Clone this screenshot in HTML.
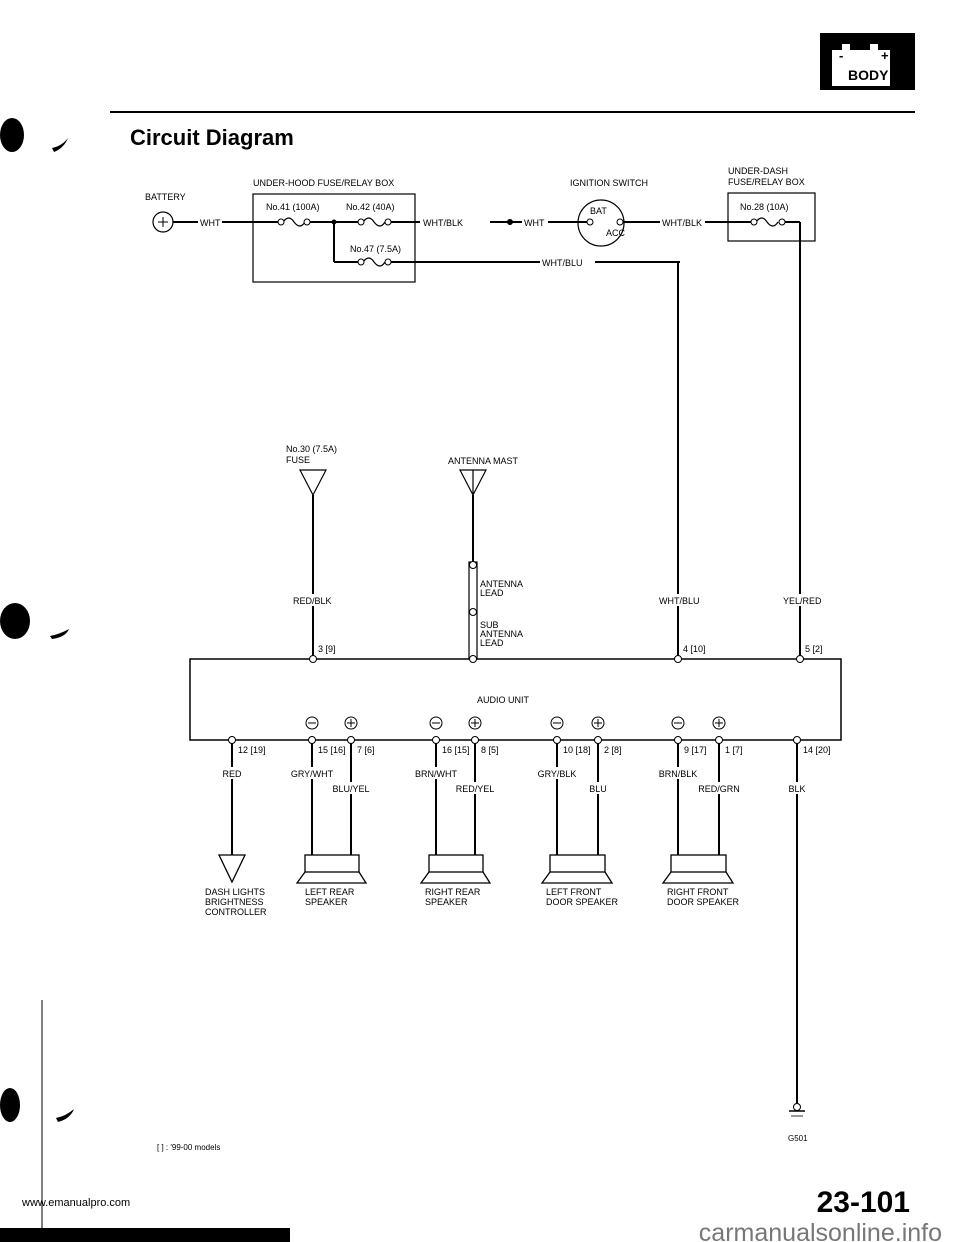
<!DOCTYPE html>
<html><head><meta charset="utf-8"><style>
html,body{margin:0;padding:0;background:#fff;}
svg{display:block;}
text{font-family:"Liberation Sans",Arial,sans-serif;fill:#000;}
.s{font-size:9px;}
</style></head><body>
<svg width="960" height="1242" viewBox="0 0 960 1242" xmlns="http://www.w3.org/2000/svg">
<!-- header -->
<rect x="820" y="33" width="95" height="57" fill="#000"/>
<path d="M832 50 h10 v-6 h8 v6 h20 v-6 h8 v6 h12 v36 h-58z" fill="#fff"/>
<text x="839" y="60" font-size="13" font-weight="bold">-</text>
<text x="881" y="60" font-size="13" font-weight="bold">+</text>
<text x="848" y="80" font-size="14" font-weight="bold">BODY</text>
<line x1="110" y1="112" x2="915" y2="112" stroke="#000" stroke-width="2"/>
<ellipse cx="12" cy="135" rx="12" ry="17" fill="#000"/>
<path d="M52 148 q10 -2 16 -10 q-4 10 -14 14z" fill="#000"/>
<text x="130" y="145" font-size="22" font-weight="bold">Circuit Diagram</text>

<!-- middle left mark -->
<ellipse cx="15" cy="621" rx="15" ry="18" fill="#000"/>
<path d="M50 636 q10 -2 19 -7 q-3 8 -17 10z" fill="#000"/>

<g fill="none" stroke="#000" stroke-width="2">
<circle cx="163" cy="222" r="10" stroke-width="1.2"/>
<line x1="173" y1="222" x2="198" y2="222"/>
<line x1="222" y1="222" x2="279" y2="222"/>
<rect x="253" y="194" width="162" height="88" stroke-width="1.2"/>
<line x1="309" y1="222" x2="359" y2="222"/>
<line x1="390" y1="222" x2="420" y2="222"/>
<line x1="334" y1="222" x2="334" y2="262"/>
<line x1="334" y1="262" x2="359" y2="262"/>
<line x1="390" y1="262" x2="540" y2="262"/>
<line x1="595" y1="262" x2="680" y2="262"/>
<line x1="678" y1="262" x2="678" y2="659"/>
<line x1="490" y1="222" x2="522" y2="222"/>
<line x1="548" y1="222" x2="590" y2="222"/>
<circle cx="601" cy="223" r="23" stroke-width="1.2"/>
<line x1="622" y1="222" x2="660" y2="222"/>
<line x1="705" y1="222" x2="752" y2="222"/>
<rect x="728" y="193" width="87" height="48" stroke-width="1.2"/>
<line x1="784" y1="222" x2="800" y2="222"/>
<line x1="800" y1="222" x2="800" y2="659"/>
<g stroke-width="1.2">
<path d="M283 222 q6 -8 11 0 q6 8 11 0"/><path d="M363 222 q6 -8 11 0 q6 8 11 0"/>
<path d="M363 262 q6 -8 11 0 q6 8 11 0"/><path d="M756 222 q6 -8 11 0 q6 8 11 0"/>
</g>
</g>
<g fill="#fff" stroke="#000" stroke-width="1">
<circle cx="281" cy="222" r="3"/><circle cx="307" cy="222" r="3"/>
<circle cx="361" cy="222" r="3"/><circle cx="388" cy="222" r="3"/>
<circle cx="361" cy="262" r="3"/><circle cx="388" cy="262" r="3"/>
<circle cx="754" cy="222" r="3"/><circle cx="782" cy="222" r="3"/>
<circle cx="590" cy="222" r="3"/><circle cx="620" cy="222" r="3"/>
</g>
<circle cx="334" cy="222" r="2.5"/><circle cx="510" cy="222" r="3"/>
<path d="M158 222h10M163 217v10" stroke="#000" stroke-width="1"/>
<text class="s" x="145" y="200">BATTERY</text>
<text class="s" x="200" y="226">WHT</text>
<text class="s" x="253" y="186">UNDER-HOOD FUSE/RELAY BOX</text>
<text class="s" x="266" y="210">No.41 (100A)</text>
<text class="s" x="346" y="210">No.42 (40A)</text>
<text class="s" x="350" y="252">No.47 (7.5A)</text>
<text class="s" x="423" y="226">WHT/BLK</text>
<text class="s" x="524" y="226">WHT</text>
<text class="s" x="542" y="266">WHT/BLU</text>
<text class="s" x="570" y="186">IGNITION SWITCH</text>
<text class="s" x="590" y="214" font-size="8">BAT</text>
<text class="s" x="606" y="236" font-size="8">ACC</text>
<text class="s" x="662" y="226">WHT/BLK</text>
<text class="s" x="728" y="174">UNDER-DASH</text>
<text class="s" x="728" y="185">FUSE/RELAY BOX</text>
<text class="s" x="740" y="210">No.28 (10A)</text>

<text class="s" x="286" y="452">No.30 (7.5A)</text>
<text class="s" x="286" y="463">FUSE</text>
<text class="s" x="448" y="464">ANTENNA MAST</text>
<g fill="none" stroke="#000" stroke-width="1.2">
<path d="M300 470 h26 l-13 25z"/>
<path d="M460 470 h26 l-13 25z M473 470 v25"/>
<rect x="469" y="562" width="8" height="97"/>
</g>
<g stroke="#000" stroke-width="2">
<line x1="313" y1="495" x2="313" y2="594"/><line x1="313" y1="606" x2="313" y2="659"/>
<line x1="473" y1="495" x2="473" y2="562"/>
</g>
<rect x="660" y="594" width="36" height="12" fill="#fff"/>
<rect x="780" y="594" width="40" height="12" fill="#fff"/>
<text class="s" x="293" y="604">RED/BLK</text>
<text class="s" x="659" y="604">WHT/BLU</text>
<text class="s" x="783" y="604">YEL/RED</text>
<text class="s" x="480" y="587">ANTENNA</text><text class="s" x="480" y="596">LEAD</text>
<text class="s" x="480" y="628">SUB</text><text class="s" x="480" y="637">ANTENNA</text><text class="s" x="480" y="646">LEAD</text>
<text class="s" x="318" y="652">3 [9]</text>
<text class="s" x="683" y="652">4 [10]</text>
<text class="s" x="805" y="652">5 [2]</text>

<rect x="190" y="659" width="651" height="81" fill="none" stroke="#000" stroke-width="1.5"/>
<text class="s" x="503" y="703" text-anchor="middle">AUDIO UNIT</text>
<g fill="#fff" stroke="#000" stroke-width="1">
<circle cx="473" cy="565" r="3.5"/><circle cx="473" cy="612" r="3.5"/>
<circle cx="313" cy="659" r="3.5"/><circle cx="473" cy="659" r="3.5"/><circle cx="678" cy="659" r="3.5"/><circle cx="800" cy="659" r="3.5"/>
</g>
<g stroke="#000" stroke-width="2" fill="none">
<line x1="232" y1="740" x2="232" y2="855"/>
<line x1="312" y1="740" x2="312" y2="855"/><line x1="351" y1="740" x2="351" y2="855"/>
<line x1="436" y1="740" x2="436" y2="855"/><line x1="475" y1="740" x2="475" y2="855"/>
<line x1="557" y1="740" x2="557" y2="855"/><line x1="598" y1="740" x2="598" y2="855"/>
<line x1="678" y1="740" x2="678" y2="855"/><line x1="719" y1="740" x2="719" y2="855"/>
<line x1="797" y1="740" x2="797" y2="1104"/>
</g>
<g fill="#fff">
<rect x="215" y="767" width="34" height="12"/>
<rect x="290" y="767" width="45" height="12"/><rect x="331" y="782" width="42" height="12"/>
<rect x="414" y="767" width="45" height="12"/><rect x="453" y="782" width="42" height="12"/>
<rect x="535" y="767" width="45" height="12"/><rect x="585" y="782" width="26" height="12"/>
<rect x="656" y="767" width="45" height="12"/><rect x="697" y="782" width="44" height="12"/>
<rect x="785" y="782" width="24" height="12"/>
</g>
<text class="s" x="232" y="777" text-anchor="middle">RED</text>
<text class="s" x="312" y="777" text-anchor="middle">GRY/WHT</text>
<text class="s" x="351" y="792" text-anchor="middle">BLU/YEL</text>
<text class="s" x="436" y="777" text-anchor="middle">BRN/WHT</text>
<text class="s" x="475" y="792" text-anchor="middle">RED/YEL</text>
<text class="s" x="557" y="777" text-anchor="middle">GRY/BLK</text>
<text class="s" x="598" y="792" text-anchor="middle">BLU</text>
<text class="s" x="678" y="777" text-anchor="middle">BRN/BLK</text>
<text class="s" x="719" y="792" text-anchor="middle">RED/GRN</text>
<text class="s" x="797" y="792" text-anchor="middle">BLK</text>
<g fill="#fff" stroke="#000" stroke-width="1">
<circle cx="232" cy="740" r="3.5"/><circle cx="312" cy="740" r="3.5"/><circle cx="351" cy="740" r="3.5"/>
<circle cx="436" cy="740" r="3.5"/><circle cx="475" cy="740" r="3.5"/><circle cx="557" cy="740" r="3.5"/>
<circle cx="598" cy="740" r="3.5"/><circle cx="678" cy="740" r="3.5"/><circle cx="719" cy="740" r="3.5"/>
<circle cx="797" cy="740" r="3.5"/>
</g>
<text class="s" x="238" y="753">12 [19]</text>
<text class="s" x="318" y="753">15 [16]</text><text class="s" x="357" y="753">7 [6]</text>
<text class="s" x="442" y="753">16 [15]</text><text class="s" x="481" y="753">8 [5]</text>
<text class="s" x="563" y="753">10 [18]</text><text class="s" x="604" y="753">2 [8]</text>
<text class="s" x="684" y="753">9 [17]</text><text class="s" x="725" y="753">1 [7]</text>
<text class="s" x="803" y="753">14 [20]</text>
<g fill="none" stroke="#000" stroke-width="1">
<circle cx="312" cy="723" r="6"/><circle cx="351" cy="723" r="6"/>
<circle cx="436" cy="723" r="6"/><circle cx="475" cy="723" r="6"/>
<circle cx="557" cy="723" r="6"/><circle cx="598" cy="723" r="6"/>
<circle cx="678" cy="723" r="6"/><circle cx="719" cy="723" r="6"/>
<path d="M308 723h8 M347 723h8 M351 719v8 M432 723h8 M471 723h8 M475 719v8 M553 723h8 M594 723h8 M598 719v8 M674 723h8 M715 723h8 M719 719v8"/>
</g>

<g fill="none" stroke="#000" stroke-width="1.3">
<path d="M219 855 h26 l-13 27z"/>
<rect x="305" y="855" width="54" height="17"/><path d="M305 872 l-8 11 h69 l-7 -11"/>
<rect x="429" y="855" width="54" height="17"/><path d="M429 872 l-8 11 h69 l-7 -11"/>
<rect x="550" y="855" width="55" height="17"/><path d="M550 872 l-8 11 h70 l-7 -11"/>
<rect x="671" y="855" width="55" height="17"/><path d="M671 872 l-8 11 h70 l-7 -11"/>
</g>
<text class="s" x="205" y="895">DASH LIGHTS</text><text class="s" x="205" y="905">BRIGHTNESS</text><text class="s" x="205" y="915">CONTROLLER</text>
<text class="s" x="305" y="895">LEFT REAR</text><text class="s" x="305" y="905">SPEAKER</text>
<text class="s" x="425" y="895">RIGHT REAR</text><text class="s" x="425" y="905">SPEAKER</text>
<text class="s" x="546" y="895">LEFT FRONT</text><text class="s" x="546" y="905">DOOR SPEAKER</text>
<text class="s" x="667" y="895">RIGHT FRONT</text><text class="s" x="667" y="905">DOOR SPEAKER</text>

<circle cx="797" cy="1107" r="3.5" fill="#fff" stroke="#000" stroke-width="1"/>
<line x1="789" y1="1111" x2="805" y2="1111" stroke="#000" stroke-width="1.5"/>
<line x1="791" y1="1116" x2="803" y2="1116" stroke="#000" stroke-width="0.8"/>
<text x="788" y="1141" font-size="8">G501</text>
<text x="157" y="1150" font-size="8">[ ] : '99-00 models</text>

<line x1="42" y1="1000" x2="42" y2="1230" stroke="#000" stroke-width="1"/>
<ellipse cx="10" cy="1105" rx="10" ry="17" fill="#000"/>
<path d="M56 1118 q10 -2 18 -9 q-4 10 -16 13z" fill="#000"/>
<rect x="0" y="1228" width="290" height="14" fill="#000"/>
<text x="22" y="1206" font-size="11">www.emanualpro.com</text>
<text x="910" y="1212" font-size="30" font-weight="bold" text-anchor="end">23-101</text>
<text x="942" y="1241" font-size="25" style="fill:#777" text-anchor="end">carmanualsonline.info</text>
</svg>
</body></html>
